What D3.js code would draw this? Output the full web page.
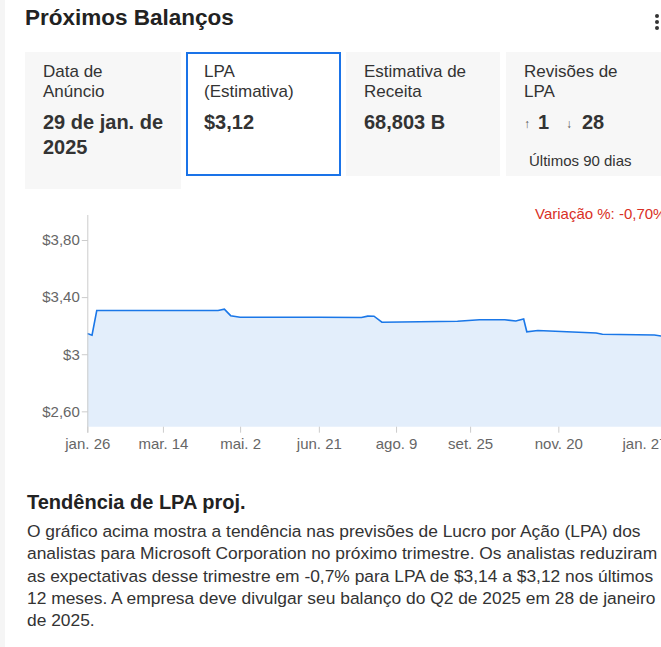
<!DOCTYPE html>
<html><head><meta charset="utf-8">
<script src="https://cdn.jsdelivr.net/npm/d3@7"></script>
<style>
body{margin:0;width:661px;height:647px;overflow:hidden;background:#fff;font-family:"Liberation Sans",Arial,sans-serif;color:#333;position:relative}
.abs{position:absolute;white-space:nowrap}
.card{position:absolute;background:#f7f7f7;box-sizing:border-box}
.lbl{position:absolute;font-size:17px;line-height:20px;color:#333;white-space:nowrap}
.val{position:absolute;font-size:20px;line-height:25px;font-weight:bold;color:#333;white-space:nowrap}
svg{position:absolute;left:0;top:0}
</style></head><body>
<script>
// ---------- data ----------
const dates = ["2024-01-26","2024-01-29","2024-02-01","2024-04-18","2024-04-22","2024-04-26","2024-05-02",
  "2024-06-21","2024-07-18","2024-07-22","2024-07-26","2024-07-31","2024-09-17","2024-10-01","2024-10-17",
  "2024-10-24","2024-10-29","2024-10-31","2024-11-07","2024-12-14","2024-12-18","2025-01-20","2025-01-28"];
const values = [3.145,3.133,3.306,3.306,3.315,3.270,3.259,
  3.259,3.257,3.267,3.266,3.224,3.231,3.241,3.241,
  3.233,3.247,3.157,3.166,3.149,3.140,3.135,3.120];
const tickDates = ["2024-01-26","2024-03-14","2024-05-02","2024-06-21","2024-08-09","2024-09-25","2024-11-20","2025-01-27"];
const tickLabels = ["jan. 26","mar. 14","mai. 2","jun. 21","ago. 9","set. 25","nov. 20","jan. 27"];
const yTicks = [2.6, 3, 3.4, 3.8];
const yTickLabels = ["$2,60","$3","$3,40","$3,80"];
const cardLabels = [["Data de","Anúncio"],["LPA","(Estimativa)"],["Estimativa de","Receita"],["Revisões de","LPA"]];
const cardValues = [["29 de jan. de","2025"],["$3,12"],["68,803 B"],null];
const revUp = 1, revDown = 28;
const changeText = "Variação %: -0,70%";
const paraLines = [
 "O gráfico acima mostra a tendência nas previsões de Lucro por Ação (LPA) dos",
 "analistas para Microsoft Corporation no próximo trimestre. Os analistas reduziram",
 "as expectativas desse trimestre em -0,7% para LPA de $3,14 a $3,12 nos últimos",
 "12 meses. A empresa deve divulgar seu balanço do Q2 de 2025 em 28 de janeiro",
 "de 2025."];

// ---------- page ----------
const body = d3.select("body");
body.append("div").style("position","absolute").style("left","0").style("top","0")
  .style("width","5px").style("height","647px").style("background","#f5f5f5");

body.append("div").attr("class","abs").text("Próximos Balanços")
  .style("left","25px").style("top","5px").style("font-size","22.5px").style("font-weight","bold")
  .style("color","#222");
// menu dots
for (let i=0;i<3;i++) body.append("div").style("position","absolute")
  .style("left","655px").style("top",(14+i*6)+"px").style("width","4px").style("height","4px")
  .style("background","#333").style("border-radius","2px");

const cardX = [25,186,346,506], cardW = [156,155,154,160], cardH = [137,124,124,124];
cardLabels.forEach((lab,i)=>{
  const c = body.append("div").attr("class","card")
    .style("left",cardX[i]+"px").style("top","52px")
    .style("width",cardW[i]+"px").style("height",cardH[i]+"px");
  if (i===1) c.style("background","#fff").style("border","2px solid #1a73e8");
  const off = i===1 ? 2 : 0;
  c.append("div").attr("class","lbl").style("left",(18-off)+"px").style("top",(10-off)+"px")
    .html(lab.join("<br>"));
  if (cardValues[i]) {
    c.append("div").attr("class","val").style("left",(18-off)+"px").style("top",(58-off)+"px")
      .html(cardValues[i].join("<br>"));
  } else {
    const arrow = (left, ch) => c.append("div").attr("class","abs").style("left",left+"px").style("top","65px")
      .style("font-size","12px").style("color","#555").html(ch);
    arrow(18, "&#8593;");
    c.append("div").attr("class","val").style("left","32px").style("top","58px").text(revUp);
    arrow(60, "&#8595;");
    c.append("div").attr("class","val").style("left","76px").style("top","58px").text(revDown);
    c.append("div").attr("class","abs").style("left","23px").style("top","100px")
      .style("font-size","15px").style("color","#333").text("Últimos 90 dias");
  }
});

// ---------- chart ----------
const svg = body.append("svg").attr("width",661).attr("height",647);
const parse = d3.utcParse("%Y-%m-%d");
const data = dates.map((d,i)=>({date:parse(d), v:values[i]}));
const x0 = 87.3, pxPerDay = 1.5753;
const xEnd = parse("2025-01-28");
const x = d3.scaleUtc().domain([parse("2024-01-26"), xEnd])
  .range([x0, x0 + pxPerDay * (xEnd - parse("2024-01-26"))/864e5]);
const plotTop = 215, plotBottom = 426.7;
const y = d3.scaleLinear().domain([2.4924, 3.975]).range([plotBottom, plotTop]);

svg.append("path").datum(data)
  .attr("d", d3.area().x(d=>x(d.date)).y0(plotBottom).y1(d=>y(d.v)))
  .attr("fill","#e3eefb");
svg.append("path").datum(data)
  .attr("d", d3.line().x(d=>x(d.date)).y(d=>y(d.v)))
  .attr("fill","none").attr("stroke","#1a77e8").attr("stroke-width",1.6);

const axFont = "'Liberation Sans',Arial,sans-serif";
// y axis
const ya = svg.append("g").attr("transform",`translate(${x0+0.5},0)`)
  .call(d3.axisLeft(y).tickValues(yTicks).tickSize(6).tickPadding(2)
    .tickFormat((d,i)=>yTickLabels[i]));
ya.select(".domain").remove();
ya.selectAll(".tick line").attr("stroke","#ccc");
ya.selectAll(".tick text").attr("fill","#666").style("font-size","15px").style("font-family",axFont);
svg.append("line").attr("x1",x0+0.5).attr("x2",x0+0.5).attr("y1",plotTop).attr("y2",plotBottom+6)
  .attr("stroke","#ccc");

// x axis
const xr = x.range()[1];
const xa = svg.append("g").attr("transform",`translate(0,${plotBottom})`)
  .call(d3.axisBottom(x).tickValues(tickDates.map(parse)).tickSize(6).tickPadding(6)
    .tickFormat((d,i)=>tickLabels[i]));
xa.select(".domain").remove();
xa.selectAll(".tick line").attr("stroke","#ccc");
xa.selectAll(".tick text").attr("fill","#666").style("font-size","15px").style("font-family",axFont)
  .each(function(d){
    const w = this.getComputedTextLength();
    const cx = x(d);
    if (cx + w/2 > xr) d3.select(this).attr("text-anchor","end").attr("x", xr - cx);
  });

svg.append("text").attr("x",535).attr("y",219).attr("fill","#d93025")
  .style("font-size","15px").style("font-family",axFont)
  .text(changeText);

// ---------- text below ----------
body.append("div").attr("class","abs").text("Tendência de LPA proj.")
  .style("left","27px").style("top","491px").style("font-size","20px").style("font-weight","bold")
  .style("color","#222");
const p = body.append("div").style("position","absolute").style("left","27px").style("top","520px")
  .style("font-size","17.4px").style("line-height","22.3px").style("color","#333").style("white-space","nowrap");
p.selectAll("div").data(paraLines).join("div").text(d=>d);
</script>
</body></html>
